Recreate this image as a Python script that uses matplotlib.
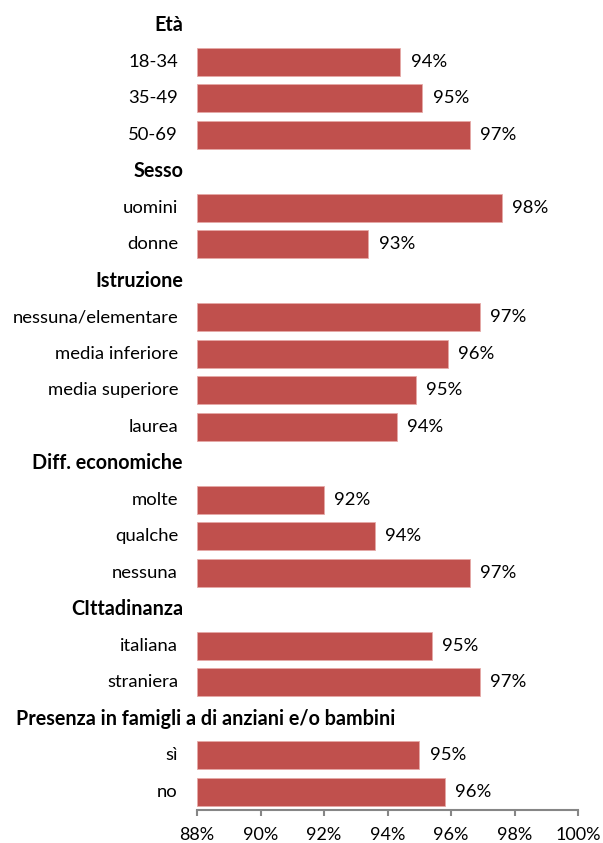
import matplotlib

matplotlib.use("Agg")
import matplotlib.pyplot as plt
import matplotlib.transforms as mtransforms
from matplotlib.ticker import FuncFormatter

plt.rcParams["font.family"] = ["Lato", "DejaVu Sans"]

# Groups and their sub-categories (top to bottom, as in the reference)
GROUPS = [
    "Età",
    "Sesso",
    "Istruzione",
    "Diff. economiche",
    "CIttadinanza",
    "Presenza in famigli a di anziani e/o bambini",
]
CATEGORIES = [
    ["18-34", "35-49", "50-69"],
    ["uomini", "donne"],
    ["nessuna/elementare", "media inferiore", "media superiore", "laurea"],
    ["molte", "qualche", "nessuna"],
    ["italiana", "straniera"],
    ["sì", "no"],
]
VALUES = [
    [94.4, 95.1, 96.6],
    [97.6, 93.4],
    [96.9, 95.9, 94.9, 94.3],
    [92.0, 93.6, 96.6],
    [95.4, 96.9],
    [95.0, 95.8],
]
X_TICKS = [88, 90, 92, 94, 96, 98, 100]

BAR_COLOR = "#C0504D"
AXIS_GRAY = "#868686"
W, H = 603, 843

fig = plt.figure(figsize=(W / 100, H / 100), dpi=100)
ax = fig.add_axes([197 / W, 1 - 810 / H, (578 - 197) / W, (810 - 7) / H])

# flatten into rows: header rows have no bar
rows = []
for group, cats, vals in zip(GROUPS, CATEGORIES, VALUES):
    rows.append((group, None))
    rows.extend(zip(cats, vals))

x0 = X_TICKS[0]
label_tf = mtransforms.blended_transform_factory(fig.transFigure, ax.transData)

for i, (name, val) in enumerate(rows):
    if val is None:
        if len(name) > 20:
            ax.text(16 / W, i, name, transform=label_tf, ha="left", va="center",
                    fontsize=14.2, fontweight="bold")
        else:
            ax.text(183 / W, i, name, transform=label_tf, ha="right", va="center",
                    fontsize=14.2, fontweight="bold")
        continue
    ax.barh(i, val - x0, left=x0, height=0.77, color=BAR_COLOR,
            edgecolor="#E6A9A7", linewidth=0.6)
    ax.text(178 / W, i, name, transform=label_tf, ha="right", va="center", fontsize=13.3)
    ax.annotate(f"{round(val)}%", (val, i), xytext=(7.5, 0), textcoords="offset points",
                ha="left", va="center", fontsize=13.3)

ax.set_xlim(X_TICKS[0], X_TICKS[-1])
ax.set_ylim(len(rows) - 0.5, -0.5)
ax.set_xticks(X_TICKS)
ax.xaxis.set_major_formatter(FuncFormatter(lambda v, _: f"{v:.0f}%"))
ax.set_yticks([])

for side in ("top", "right", "left"):
    ax.spines[side].set_visible(False)
ax.spines["bottom"].set_color(AXIS_GRAY)
ax.spines["bottom"].set_linewidth(1.5)
ax.tick_params(axis="x", direction="out", length=4, width=1.5, color=AXIS_GRAY,
               labelsize=13, pad=8)

fig.savefig("out.png", dpi=100, facecolor="white")
